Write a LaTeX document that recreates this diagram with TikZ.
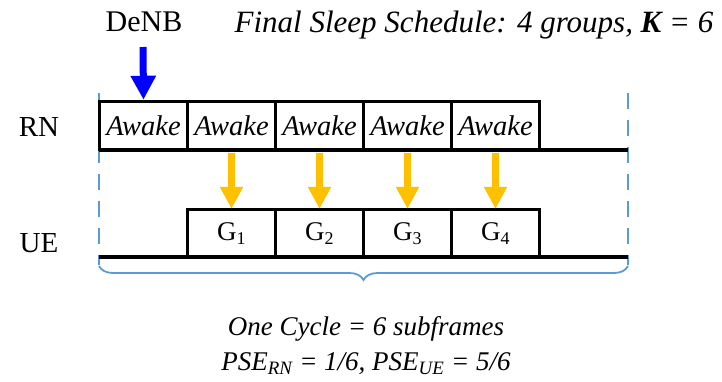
\documentclass[tikz,border=0pt]{standalone}
\usepackage{fontspec}
\setmainfont{Liberation Serif}
\usetikzlibrary{arrows.meta,decorations.pathreplacing}
\definecolor{cyclblue}{RGB}{91,155,213}
\definecolor{grpgold}{RGB}{255,192,0}
\definecolor{denbblue}{RGB}{0,0,255}
\tikzset{
  lbl/.style={font=\fontsize{29}{32}\selectfont, inner sep=0pt},
  slot/.style={draw=black, line width=3.5pt, minimum width=88pt, minimum height=48pt, inner sep=0pt, font=\fontsize{28.5}{32}\selectfont\itshape},
  gslot/.style={slot, font=\fontsize{27}{30}\selectfont},
  track/.style={line width=3.5pt, black},
  wake/.style={-{Triangle[length=22pt,width=22pt]}, line width=7pt, grpgold, shorten >=-1pt},
  boundary/.style={cyclblue, line width=2.5pt, dash pattern=on 16pt off 11pt},
  note/.style={inner sep=0pt, font=\fontsize{27}{30}\selectfont\itshape},
}
\begin{document}
\begin{tikzpicture}[x=1pt,y=-1pt]
\useasboundingbox (0,0) rectangle (722,381);

% time axes
\draw[boundary] (99,93) -- (99,265);
\draw[boundary] (628,93) -- (628,265);
\coordinate (rn0) at (99,150);
\coordinate (rn1) at (628,150);
\coordinate (ue0) at (99,257);
\coordinate (ue1) at (628,257);
\draw[track] (rn0) -- (rn1);
\draw[track] (ue0) -- (ue1);

% RN awake subframes
\foreach \i/\x in {1/143.5,2/231.5,3/319.5,4/407.5,5/495.5}
  \node[slot] (a\i) at (\x,125.5) {Awake};

% UE group subframes
\foreach \i/\x in {1/231.5,2/319.5,3/407.5,4/495.5}
  \node[gslot] (g\i) at (\x,233.5) {G\textsubscript{\fontsize{18}{20}\selectfont\i}};

% wake-up indications RN -> UE groups
\foreach \i in {1,...,4}
  \draw[wake] (a\the\numexpr\i+1\relax.south) ++(0,2) -- (g\i.north);

% DeNB trigger
\node[lbl, font=\fontsize{30}{33}\selectfont] (denb) at (144,22) {DeNB};
\draw[-{Triangle[length=24pt,width=24pt]}, line width=7pt, denbblue] (143,47) -- (a1.north);

% labels
\node[lbl, font=\fontsize{31}{34}\selectfont] (title) at (474,25) {\itshape Final Sleep Schedule: 4 groups, \textbf{K} = 6};
\node[lbl] (rn) at (39,127) {RN};
\node[lbl] (ue) at (39,243) {UE};

% one cycle
\draw[decorate, decoration={brace, mirror, amplitude=14pt}, cyclblue, line width=1.8pt] (99,266) -- (628,266);
\node[note] (cyc) at (366,329) {One Cycle = 6 subframes};
\node[note] (pse) at (366,364) {PSE\textsubscript{RN} = 1/6, PSE\textsubscript{UE} = 5/6};
\end{tikzpicture}
\end{document}
